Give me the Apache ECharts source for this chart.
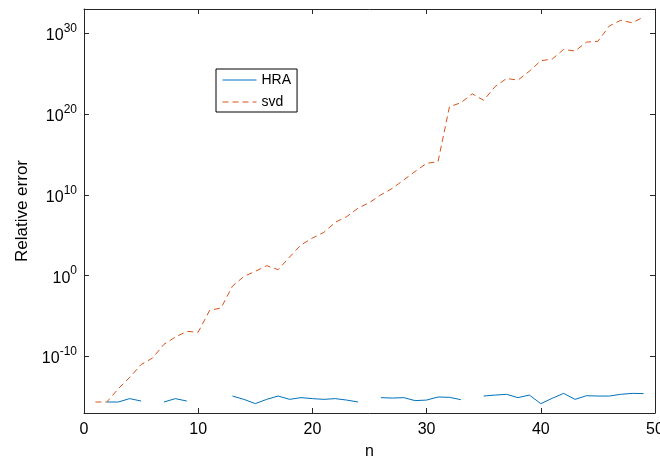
<!DOCTYPE html>
<html>
<head>
<meta charset="utf-8">
<script src="https://cdn.jsdelivr.net/npm/echarts@6/dist/echarts.min.js"></script>
<style>
  html, body { margin: 0; padding: 0; background: #fff; }
  #chart { width: 660px; height: 458px; }
</style>
</head>
<body>
<div id="chart"></div>
<script>
// n = 1..49, errors stored as log10 exponents (null = not plotted)
var nValues = [];
for (var i = 1; i <= 49; i++) nValues.push(i);

var hraExp = [
    null, -15.64, -15.64, -15.22, -15.52, null, -15.64, -15.22, -15.52, null,
    null, null, -14.9, -15.31, -15.84, -15.31, -14.9, -15.31, -15.1, -15.22,
    -15.31, -15.22, -15.4, -15.64, null, -15.1, -15.15, -15.1, -15.47, -15.4,
    -15.02, -15.06, -15.35, null, -14.9, -14.78, -14.69, -15.1, -14.78, -15.84,
    -15.18, -14.57, -15.31, -14.86, -14.9, -14.9, -14.69, -14.57, -14.6
];

var svdExp = [
    -15.64, -15.64, -14.0, -12.6, -11.0, -10.2, -8.5, -7.6, -6.9, -7.0,
    -4.3, -4.0, -1.3, -0.1, 0.53, 1.23, 0.74, 2.3, 3.8, 4.65,
    5.35, 6.6, 7.3, 8.35, 9.05, 10.0, 10.8, 11.85, 12.9, 13.9,
    14.1, 20.9, 21.4, 22.5, 21.7, 23.4, 24.4, 24.2, 25.3, 26.6,
    26.8, 28.0, 27.8, 28.9, 29.0, 30.9, 31.6, 31.3, 32.0
];

var yTickExps = [-10, 0, 10, 20, 30];

function pairs(ys) {
    var out = [];
    for (var k = 0; k < nValues.length; k++) out.push([nValues[k], ys[k]]);
    return out;
}

var axisColor = '#262626';
var font = 'Liberation Sans, Arial, Helvetica, sans-serif';

var option = {
    animation: false,
    backgroundColor: '#fff',
    grid: { left: 84, right: 5, top: 9, bottom: 45, outerBoundsMode: 'none', containLabel: false },
    legend: {
        show: true,
        orient: 'vertical',
        left: 216,
        top: 69,
        padding: [4, 6, 3, 6],
        itemWidth: 34,
        itemHeight: 10,
        itemGap: 8,
        borderColor: '#000',
        borderWidth: 1,
        backgroundColor: '#fff',
        itemStyle: { opacity: 0 },
        lineStyle: { width: 1 },
        textStyle: { fontFamily: font, fontSize: 14, color: '#000' },
        data: ['HRA', 'svd']
    },
    xAxis: [
        {
            type: 'value',
            min: 0,
            max: 50,
            interval: 10,
            name: 'n',
            nameLocation: 'middle',
            nameGap: 31,
            nameTextStyle: { fontFamily: font, fontSize: 16, color: '#000' },
            axisLine: { onZero: false, lineStyle: { color: axisColor, width: 1 } },
            axisTick: { inside: true, length: 5, lineStyle: { color: axisColor } },
            axisLabel: { fontFamily: font, fontSize: 16, color: '#000', margin: 9 },
            splitLine: { show: false }
        },
        {
            type: 'value',
            position: 'top',
            min: 0,
            max: 50,
            interval: 10,
            axisLine: { onZero: false, lineStyle: { color: axisColor, width: 1 } },
            axisTick: { inside: true, length: 5, lineStyle: { color: axisColor } },
            axisLabel: { show: false },
            splitLine: { show: false }
        }
    ],
    yAxis: [
        {
            type: 'value',
            min: -17,
            max: 33,
            name: 'Relative error',
            nameLocation: 'middle',
            nameGap: 53,
            nameTextStyle: { fontFamily: font, fontSize: 17, color: '#000' },
            axisLine: { show: true, onZero: false, lineStyle: { color: axisColor, width: 1 } },
            axisTick: { inside: true, length: 5, customValues: yTickExps, lineStyle: { color: axisColor } },
            axisLabel: {
                customValues: yTickExps,
                margin: 7,
                formatter: function (v) { return '{b|10}{s|' + v + '}'; },
                rich: {
                    b: { fontFamily: font, fontSize: 16, color: '#000', verticalAlign: 'bottom' },
                    s: { fontFamily: font, fontSize: 12, color: '#000', verticalAlign: 'bottom', padding: [0, 0, 9, 0] }
                }
            },
            splitLine: { show: false }
        },
        {
            type: 'value',
            position: 'right',
            min: -17,
            max: 33,
            axisLine: { show: true, onZero: false, lineStyle: { color: axisColor, width: 1 } },
            axisTick: { inside: true, length: 5, customValues: yTickExps, lineStyle: { color: axisColor } },
            axisLabel: { show: false },
            splitLine: { show: false }
        }
    ],
    series: [
        {
            name: 'HRA',
            type: 'line',
            data: pairs(hraExp),
            showSymbol: false,
            symbol: 'none',
            connectNulls: false,
            color: '#0072BD',
            lineStyle: { color: '#0072BD', width: 1 }
        },
        {
            name: 'svd',
            type: 'line',
            data: pairs(svdExp),
            showSymbol: false,
            symbol: 'none',
            color: '#D95319',
            lineStyle: { color: '#D95319', width: 1, type: [6, 4] }
        }
    ]
};

var chart = echarts.init(document.getElementById('chart'));
chart.setOption(option);
</script>
</body>
</html>
